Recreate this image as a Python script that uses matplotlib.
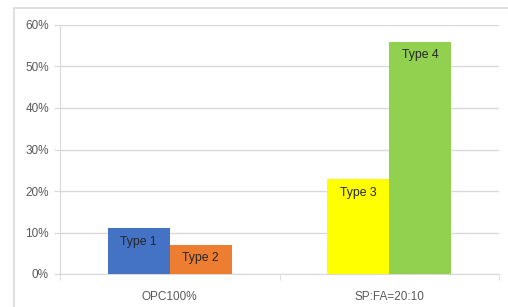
import matplotlib.pyplot as plt
from matplotlib.patches import Rectangle
from matplotlib.ticker import PercentFormatter

# data
categories = ["OPC100%", "SP:FA=20:10"]
left_vals = [11, 23]      # Type 1, Type 3
right_vals = [7, 56]      # Type 2, Type 4
left_names = ["Type 1", "Type 3"]
right_names = ["Type 2", "Type 4"]
left_colors = ["#4472C4", "#FFFF00"]
right_colors = ["#ED7D31", "#92D050"]

plt.rcParams['font.family'] = ['Liberation Sans', 'DejaVu Sans']

fig = plt.figure(figsize=(5.08, 3.07), dpi=100)
ax = fig.add_axes([60 / 508, 1 - 274 / 307, 439 / 508, 249 / 307])

# chart border (runs off the right and bottom edges like the reference)
fig.patches.append(Rectangle((14 / 508, -0.05), 1.2, 1 - 8 / 307 + 0.05,
                             transform=fig.transFigure, fill=False,
                             edgecolor="#d9d9d9", linewidth=1.2))

w = 0.283
xs = range(len(categories))
for i in xs:
    ax.bar(i - w / 2, left_vals[i], w, color=left_colors[i], zorder=3)
    ax.bar(i + w / 2, right_vals[i], w, color=right_colors[i], zorder=3)
    ax.annotate(left_names[i], (i - w / 2, left_vals[i]), xytext=(0, -14),
                textcoords="offset pixels", ha="center", va="center",
                fontsize=8.8, color="#262626", zorder=4)
    ax.annotate(right_names[i], (i + w / 2, right_vals[i]), xytext=(0, -13),
                textcoords="offset pixels", ha="center", va="center",
                fontsize=8.8, color="#262626", zorder=4)

ax.set_xlim(-0.5, 1.5)
ax.set_ylim(0, 60)
ax.set_yticks(range(0, 61, 10))
ax.yaxis.set_major_formatter(PercentFormatter(decimals=0))
ax.grid(axis="y", color="#d9d9d9", linewidth=1, zorder=0)

ax.set_xticks([0, 1])
ax.set_xticklabels(categories)
ax.set_xticks([-0.5, 0.5, 1.5], minor=True)
ax.tick_params(axis="x", which="major", length=0, pad=12, labelsize=8.5,
               labelcolor="#595959")
ax.tick_params(axis="x", which="minor", length=4, color="#d9d9d9")
ax.tick_params(axis="y", length=4, color="#d9d9d9", pad=4, labelsize=8.5,
               labelcolor="#595959")

for s in ["top", "right"]:
    ax.spines[s].set_visible(False)
ax.spines["left"].set_color("#d9d9d9")
ax.spines["bottom"].set_color("#d9d9d9")

fig.savefig("out.png", dpi=100)
